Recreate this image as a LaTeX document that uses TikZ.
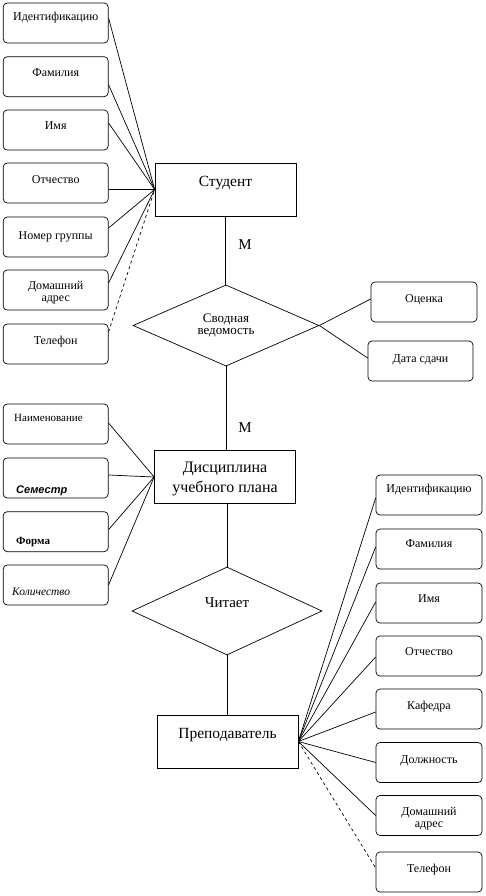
\documentclass[tikz,border=0pt]{standalone}
\usepackage{fontspec}
\setmainfont{Liberation Serif}
\newfontfamily\sansf{Liberation Sans}
\usetikzlibrary{shapes.geometric,calc}
\begin{document}
\begin{tikzpicture}[x=1pt,y=-1pt,
  every path/.style={line width=0.7pt},
  attr/.style={draw, rounded corners=4pt, minimum width=105pt, inner sep=0pt,
    font=\fontsize{12}{12}\selectfont, text height=#1, text depth=40pt-#1},
  attr/.default=19pt,
  ent/.style={draw, minimum width=141pt, inner sep=0pt,
    font=\fontsize{15.5}{20}\selectfont, text height=#1, text depth=53pt-#1},
  rel/.style={draw, diamond, inner sep=0pt},
  mlab/.style={inner sep=0pt, font=\fontsize{15}{15}\selectfont},
  lnk/.style={draw},
  dlnk/.style={draw, dash pattern=on 3pt off 3pt}]
\useasboundingbox (0,0) rectangle (485,896);

% Student attributes
\node[attr=18pt] (s1) at (55.7,23) {Идентификацию};
\node[attr=19.5pt] (s2) at (55.7,76.7) {Фамилия};
\node[attr=20pt] (s3) at (55.7,130) {Имя};
\node[attr=21pt] (s4) at (55.7,183) {Отчество};
\node[attr=22pt] (s5) at (55.7,237) {Номер группы};
\node[attr=19pt] (s6) at (55.7,290) {\begin{tabular}[t]{@{}c@{}}Домашний\\адрес\end{tabular}};
\node[attr=20pt] (s7) at (55.7,344) {Телефон};

\node[ent=23pt] (stud) at (225.5,189.5) {Студент};

\foreach \n/\s in {s1/5, s2/-8, s3/7, s4/-6.5, s5/9, s6/7}
  \draw[lnk] ([yshift=\s pt]\n.east) -- (stud.west);
\draw[dlnk] ([yshift=12pt]s7.east) -- (stud.west);

% Svodnaya vedomost
\node[rel, minimum width=186pt, minimum height=80pt] (d1) at (226,325.5)
  {\begin{tabular}{@{}c@{}}\fontsize{13}{16}\selectfont Сводная\\\fontsize{13}{16}\selectfont ведомость\end{tabular}};
\node[attr=20pt, minimum width=106pt] (oc) at (424,302) {Оценка};
\node[attr=21pt] (ds) at (420.5,361) {Дата сдачи};
\draw[lnk] (stud.south) -- (stud.south |- d1.north);
\draw[lnk] ([yshift=3pt]oc.west) -- (d1.east);
\draw[lnk] ([yshift=3pt]ds.west) -- (d1.east);
\node[mlab] (m1) at (245,245) {М};

% Discipline
\node[ent=22pt] (disc) at (225,477)
  {\fontsize{16}{20}\selectfont\begin{tabular}[t]{@{}c@{}}Дисциплина\\учебного плана\end{tabular}};
\draw[lnk] (d1.south) -- (d1.south |- disc.north);
\node[mlab] (m2) at (245,428) {М};

\node[attr=17pt] (n1) at (55.7,424)
  {\makebox[105pt][l]{\hspace{11pt}\fontsize{11}{11}\selectfont Наименование}};
\node[attr=35pt] (n2) at (55.7,478)
  {\makebox[105pt][l]{\hspace{13pt}\sansf\bfseries\itshape\fontsize{11}{11}\selectfont Семестр}};
\node[attr=33pt] (n3) at (55.7,531.7)
  {\makebox[105pt][l]{\hspace{13pt}\bfseries\fontsize{11}{11}\selectfont Форма}};
\node[attr=30pt] (n4) at (55.7,585)
  {\makebox[105pt][l]{\hspace{9pt}\itshape\fontsize{11.5}{11.5}\selectfont Количество}};
\foreach \n/\s in {n1/1, n2/3, n3/2, n4/0}
  \draw[lnk] ([yshift=\s pt]\n.east) -- (disc.west);

% Chitaet
\node[rel, minimum width=190pt, minimum height=88pt] (d2) at (227,611)
  {\raisebox{4pt}[0pt][0pt]{\fontsize{15}{15}\selectfont Читает}};
\draw[lnk] (disc.south -| d2.north) -- (d2.north);

% Teacher
\node[ent=23pt] (prep) at (227.5,741.5) {Преподаватель};
\draw[lnk] (d2.south) -- (d2.south |- prep.north);

\node[attr=17pt, minimum width=106pt] (t1) at (429,495) {Идентификацию};
\node[attr=18pt, minimum width=106pt] (t2) at (429,549) {Фамилия};
\node[attr=19pt, minimum width=106pt] (t3) at (429,603) {Имя};
\node[attr=19pt, minimum width=106pt] (t4) at (429,656) {Отчество};
\node[attr=20pt, minimum width=106pt] (t5) at (429,709) {Кафедра};
\node[attr=20.5pt, minimum width=106pt] (t6) at (429,762.5) {Должность};
\node[attr=20pt, minimum width=106pt] (t7) at (429,815.5) {\begin{tabular}[t]{@{}c@{}}Домашний\\адрес\end{tabular}};
\node[attr=20pt, minimum width=106pt] (t8) at (429,872) {Телефон};

\foreach \n/\s in {t1/-3, t2/2, t3/1, t4/-1, t5/-3, t6/0, t7/0}
  \draw[lnk] (prep.east) -- ([yshift=\s pt]\n.west);
\draw[dlnk] (prep.east) -- ([yshift=4pt]t8.west);
\end{tikzpicture}
\end{document}
